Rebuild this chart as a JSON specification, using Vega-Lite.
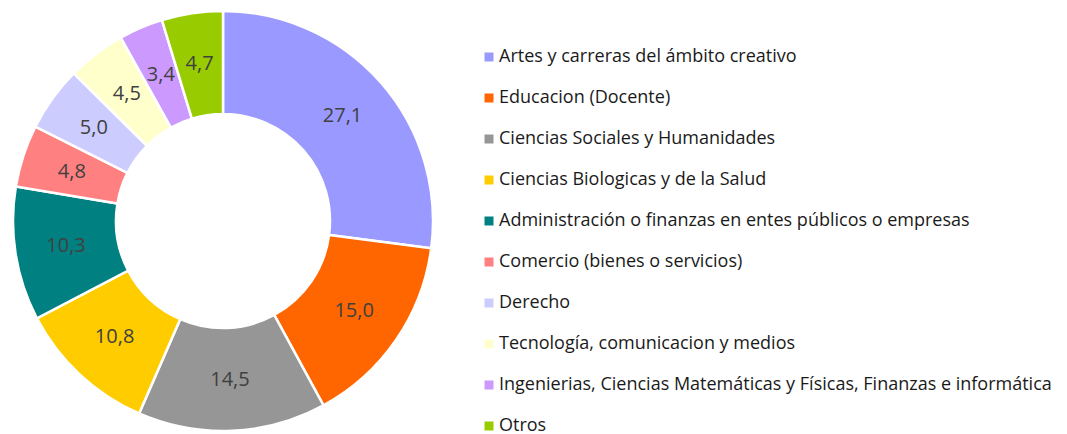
{
  "$schema": "https://vega.github.io/schema/vega-lite/v6.json",
  "width": 446,
  "height": 434,
  "padding": {"top": 4, "left": 0, "right": 0, "bottom": 0},
  "background": "white",
  "config": {
    "view": {"stroke": null},
    "locale": {"number": {"decimal": ",", "thousands": ".", "grouping": [3], "currency": ["", " €"]}}
  },
  "data": {
    "values": [
      {"categoria": "Artes y carreras del ámbito creativo", "valor": 27.1, "orden": 1},
      {"categoria": "Educacion (Docente)", "valor": 15.0, "orden": 2},
      {"categoria": "Ciencias Sociales y Humanidades", "valor": 14.5, "orden": 3},
      {"categoria": "Ciencias Biologicas y de la Salud", "valor": 10.8, "orden": 4},
      {"categoria": "Administración o finanzas en entes públicos o empresas", "valor": 10.3, "orden": 5},
      {"categoria": "Comercio (bienes o servicios)", "valor": 4.8, "orden": 6},
      {"categoria": "Derecho", "valor": 5.0, "orden": 7},
      {"categoria": "Tecnología, comunicacion y medios", "valor": 4.5, "orden": 8},
      {"categoria": "Ingenierias, Ciencias Matemáticas y Físicas, Finanzas e informática", "valor": 3.4, "orden": 9},
      {"categoria": "Otros", "valor": 4.7, "orden": 10}
    ]
  },
  "encoding": {
    "theta": {"field": "valor", "type": "quantitative", "stack": true},
    "order": {"field": "orden", "type": "quantitative"},
    "color": {
      "field": "categoria",
      "type": "nominal",
      "sort": {"field": "orden"},
      "scale": {
        "domain": [
          "Artes y carreras del ámbito creativo",
          "Educacion (Docente)",
          "Ciencias Sociales y Humanidades",
          "Ciencias Biologicas y de la Salud",
          "Administración o finanzas en entes públicos o empresas",
          "Comercio (bienes o servicios)",
          "Derecho",
          "Tecnología, comunicacion y medios",
          "Ingenierias, Ciencias Matemáticas y Físicas, Finanzas e informática",
          "Otros"
        ],
        "range": ["#9999FF", "#FF6600", "#969696", "#FFCC00", "#008080", "#FF8080", "#CCCCFF", "#FFFFCC", "#CC99FF", "#99CC00"]
      },
      "legend": {
        "title": null,
        "orient": "none",
        "legendX": 480,
        "legendY": 44,
        "symbolType": "square",
        "symbolSize": 81,
        "symbolStrokeWidth": 0,
        "labelFont": "Open Sans",
        "labelFontSize": 18,
        "labelColor": "#1a1a1a",
        "labelOffset": 1,
        "labelLimit": 700,
        "rowPadding": 23,
        "padding": 0
      }
    }
  },
  "layer": [
    {
      "mark": {"type": "arc", "radius": 210, "radius2": 107, "stroke": "white", "strokeWidth": 2.5}
    },
    {
      "mark": {"type": "text", "radius": 159, "font": "Open Sans", "fontSize": 20, "color": "#404040"},
      "encoding": {
        "text": {"field": "valor", "type": "quantitative", "format": ".1f"},
        "color": {"value": "#404040"}
      }
    }
  ]
}
